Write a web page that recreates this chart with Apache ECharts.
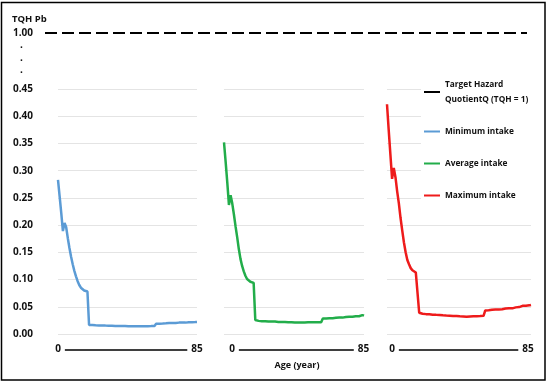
<!DOCTYPE html>
<html><head><meta charset="utf-8">
<script src="https://cdn.jsdelivr.net/npm/echarts@6/dist/echarts.min.js"></script>
<style>html,body{margin:0;padding:0;background:#fff}#c{width:550px;height:387px}</style>
</head><body><div id="c"></div><script>
const ages = Array.from({length: 86}, (_, i) => i); // age in years, 0..85
const xTickLabels = [0, 85];
const yTickLabels = ['0.00','0.05','0.10','0.15','0.20','0.25','0.30','0.35','0.40','0.45'];
const tqh = 1.00;
const minIntake = [
  0.283, 0.253, 0.222, 0.189, 0.204, 0.196, 0.176, 0.158, 0.142, 0.128, 0.116, 0.106, 0.097, 0.090, 0.085, 0.082, 0.080, 0.079, 0.078,
  0.0165, 0.0163, 0.0164, 0.0162, 0.0160, 0.0161, 0.0158, 0.0157, 0.0158, 0.0155,
  0.0154, 0.0155, 0.0152, 0.0151, 0.0152, 0.0150, 0.0149, 0.0148, 0.0149, 0.0147,
  0.0146, 0.0145, 0.0146, 0.0144, 0.0143, 0.0144, 0.0142, 0.0141, 0.0143, 0.0142,
  0.0141, 0.0143, 0.0142, 0.0144, 0.0143, 0.0145, 0.0144, 0.0146, 0.0145, 0.0147,
  0.0148, 0.0188, 0.0192, 0.0190, 0.0194, 0.0192, 0.0197, 0.0196, 0.0199, 0.0201,
  0.0199, 0.0203, 0.0205, 0.0203, 0.0207, 0.0209, 0.0206, 0.0210, 0.0212, 0.0209,
  0.0215, 0.0214, 0.0222, 0.0218, 0.0224, 0.0219, 0.0221
];
const avgIntake = [
  0.352, 0.316, 0.278, 0.237, 0.255, 0.240, 0.220, 0.198, 0.178, 0.156, 0.138, 0.125, 0.115, 0.107, 0.101, 0.098, 0.096, 0.095, 0.094,
  0.0257, 0.0246, 0.0241, 0.0238, 0.0236, 0.0234, 0.0236, 0.0231, 0.0229, 0.0231,
  0.0228, 0.0226, 0.0228, 0.0224, 0.0222, 0.0223, 0.0219, 0.0218, 0.0220, 0.0216,
  0.0214, 0.0212, 0.0214, 0.0211, 0.0210, 0.0212, 0.0209, 0.0210, 0.0212, 0.0211,
  0.0213, 0.0211, 0.0214, 0.0212, 0.0214, 0.0213, 0.0215, 0.0214, 0.0216, 0.0215,
  0.0217, 0.0284, 0.0288, 0.0286, 0.0290, 0.0289, 0.0293, 0.0291, 0.0296, 0.0298,
  0.0296, 0.0302, 0.0305, 0.0301, 0.0308, 0.0312, 0.0309, 0.0318, 0.0322, 0.0316,
  0.0327, 0.0324, 0.0333, 0.0326, 0.0338, 0.0348, 0.0336
];
const maxIntake = [
  0.422, 0.375, 0.330, 0.285, 0.305, 0.288, 0.262, 0.240, 0.213, 0.190, 0.168, 0.150, 0.136, 0.128, 0.121, 0.117, 0.115, 0.113, 0.112,
  0.0390, 0.0378, 0.0372, 0.0368, 0.0365, 0.0361, 0.0363, 0.0358, 0.0355, 0.0357,
  0.0352, 0.0349, 0.0351, 0.0346, 0.0343, 0.0341, 0.0338, 0.0335, 0.0337, 0.0333,
  0.0330, 0.0328, 0.0331, 0.0326, 0.0324, 0.0327, 0.0322, 0.0319, 0.0316, 0.0320,
  0.0323, 0.0321, 0.0326, 0.0324, 0.0328, 0.0327, 0.0331, 0.0330, 0.0335, 0.0432,
  0.0438, 0.0436, 0.0442, 0.0445, 0.0441, 0.0448, 0.0452, 0.0449, 0.0457, 0.0455,
  0.0462, 0.0468, 0.0464, 0.0472, 0.0478, 0.0471, 0.0484, 0.0489, 0.0481, 0.0495,
  0.0502, 0.0518, 0.0512, 0.0520, 0.0532, 0.0526, 0.0534
];
const seriesNames = ['Target Hazard QuotientQ (TQH = 1)', 'Minimum intake', 'Average intake', 'Maximum intake'];
const colors = ['#000000', '#5b9bd5', '#22ad4a', '#ee1b1b'];

const FONT = 'Open Sans';
const TXT = '#111';

// label paddings [left,right] for the "0" and "85" labels of each panel
function panelX(gi, withName, pad0, pad85) {
  const base = {color: TXT, fontFamily: FONT, fontSize: 10, fontWeight: 'bold', backgroundColor: '#fff'};
  const ax = {
    gridIndex: gi, type: 'value', min: xTickLabels[0], max: xTickLabels[1], interval: xTickLabels[1] - xTickLabels[0],
    offset: 16,
    axisLine: {show: true, onZero: false, lineStyle: {color: '#000', width: 1.5}},
    axisTick: {show: false}, splitLine: {show: false},
    axisLabel: {margin: -6, color: TXT, fontFamily: FONT, fontSize: 10, fontWeight: 'bold',
      formatter: v => v === xTickLabels[0] ? '{a|' + v + '}' : '{b|' + v + '}',
      rich: {
        a: Object.assign({padding: [0, pad0[1], 0, pad0[0]]}, base),
        b: Object.assign({padding: [0, pad85[1], 0, pad85[0]]}, base)
      }}
  };
  if (withName) {
    ax.name = 'Age (year)';
    ax.nameLocation = 'middle';
    ax.nameGap = 11;
    ax.nameTextStyle = {color: TXT, fontFamily: FONT, fontSize: 9, fontWeight: 'bold', padding: [0, 0, 0, 6]};
  }
  return ax;
}
function panelY(gi, showLabel) {
  return {
    gridIndex: gi, type: 'value', min: 0, max: 0.45, interval: 0.05,
    axisLine: {show: false}, axisTick: {show: false},
    splitLine: {lineStyle: {color: '#e4e4e4', width: 1}},
    axisLabel: {show: showLabel, margin: 25, color: TXT, fontFamily: FONT, fontSize: 10, fontWeight: 'bold',
      formatter: v => yTickLabels[Math.round(v / 0.05)]}
  };
}
function lineSeries(name, gi, values, color) {
  return {
    name, type: 'line', xAxisIndex: gi, yAxisIndex: gi, symbol: 'none', color,
    lineStyle: {width: 2.5, color}, data: ages.map((a, i) => [a, values[i]])
  };
}

const chart = echarts.init(document.getElementById('c'), null, {renderer: 'canvas'});
chart.setOption({
  animation: false,
  backgroundColor: '#fff',
  textStyle: {fontFamily: FONT},
  title: {text: 'TQH Pb', left: 7, top: 9, textStyle: {fontSize: 9.5, fontWeight: 'bold', color: TXT, fontFamily: FONT}},
  legend: {
    orient: 'vertical', left: 421, top: 74, backgroundColor: '#fff', padding: [3, 8, 3, 3],
    itemGap: 17, itemWidth: 16, itemHeight: 2, icon: 'rect',
    data: seriesNames,
    formatter: n => n === seriesNames[0] ? 'Target Hazard\nQuotientQ (TQH = 1)' : n,
    textStyle: {fontSize: 8.3, fontWeight: 'bold', color: TXT, fontFamily: FONT, lineHeight: 15}
  },
  grid: [
    {left: 45, right: 23, top: 28, height: 10},
    {left: 58, width: 139, top: 89, bottom: 53},
    {left: 224, width: 140, top: 89, bottom: 53},
    {left: 387, width: 144, top: 89, bottom: 53}
  ],
  xAxis: [
    {gridIndex: 0, type: 'value', min: 0, max: 1, show: false},
    panelX(1, false, [4, 4], [4, 4]),
    panelX(2, true, [20, 4], [4, 5]),
    panelX(3, false, [14, 4], [4, 10])
  ],
  yAxis: [
    {gridIndex: 0, type: 'value', min: 0, max: 2, interval: 1,
      axisLine: {show: false}, axisTick: {show: false}, splitLine: {show: false},
      axisLabel: {margin: 12, color: TXT, fontFamily: FONT, fontSize: 10, fontWeight: 'bold',
        formatter: v => v === tqh ? tqh.toFixed(2) : ''}},
    panelY(1, true), panelY(2, false), panelY(3, false)
  ],
  graphic: [
    {type: 'rect', shape: {x: 1.5, y: 2.5, width: 543.5, height: 377.5}, style: {fill: null, stroke: '#000', lineWidth: 1.5}, silent: true},
    {type: 'text', x: 20, y: 40, style: {text: '.', font: 'bold 10px "Open Sans"', fill: TXT}},
    {type: 'text', x: 20, y: 53, style: {text: '.', font: 'bold 10px "Open Sans"', fill: TXT}},
    {type: 'text', x: 20, y: 65, style: {text: '.', font: 'bold 10px "Open Sans"', fill: TXT}}
  ],
  series: [
    {name: seriesNames[0], type: 'line', xAxisIndex: 0, yAxisIndex: 0, symbol: 'none', color: colors[0],
      lineStyle: {color: colors[0], width: 2, type: [12, 5]}, data: [[0, tqh], [1, tqh]]},
    lineSeries(seriesNames[1], 1, minIntake, colors[1]),
    lineSeries(seriesNames[2], 2, avgIntake, colors[2]),
    lineSeries(seriesNames[3], 3, maxIntake, colors[3])
  ]
});
</script></body></html>
